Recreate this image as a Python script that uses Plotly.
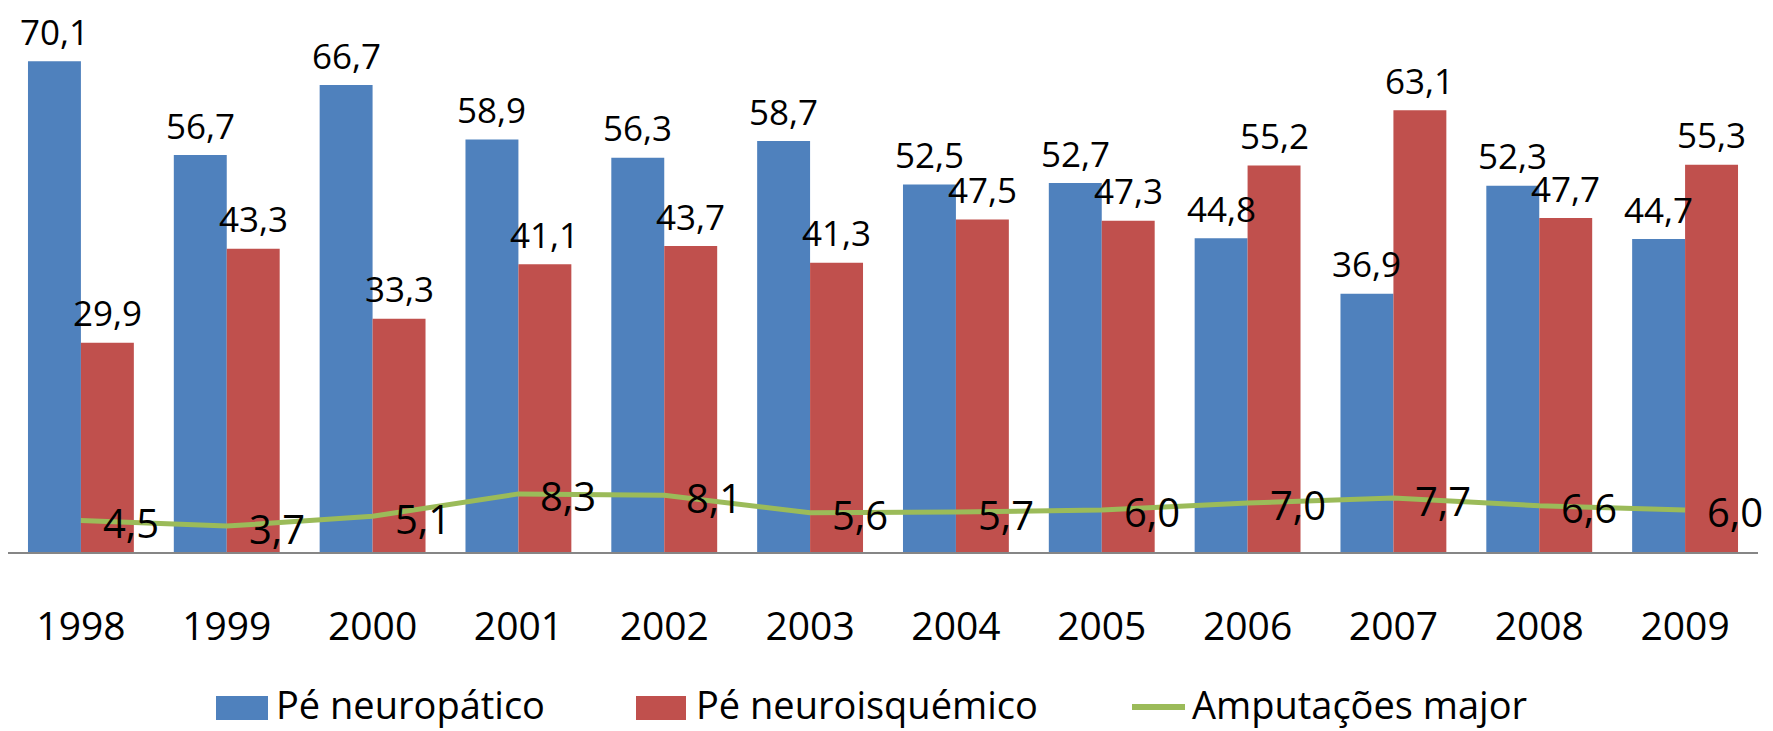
import plotly.graph_objects as go

years = [1998, 1999, 2000, 2001, 2002, 2003, 2004, 2005, 2006, 2007, 2008, 2009]
neuropatico = [70.1, 56.7, 66.7, 58.9, 56.3, 58.7, 52.5, 52.7, 44.8, 36.9, 52.3, 44.7]
neuroisquemico = [29.9, 43.3, 33.3, 41.1, 43.7, 41.3, 47.5, 47.3, 55.2, 63.1, 47.7, 55.3]
amputacoes = [4.5, 3.7, 5.1, 8.3, 8.1, 5.6, 5.7, 6.0, 7.0, 7.7, 6.6, 6.0]
series_names = ["Pé neuropático", "Pé neuroisquémico", "Amputações major"]

BLUE = "#4F81BD"
RED = "#C0504D"
GREEN = "#9BBB59"
FONT = "Open Sans"

OFF = 8  # page body margin
W, H = 1765, 723
L, R, T, B = 0, 15, 0, 179
pw, ph = W - L - R, H - T - B


def fmt(v):
    return f"{v:.1f}".replace(".", ",")


def px(x):
    return (x - OFF - L) / pw


def py(y):
    return (H - B - (y - OFF)) / ph


fig = go.Figure()
fig.add_trace(go.Bar(x=years, y=neuropatico, name=series_names[0], marker_color=BLUE,
                     marker_line_width=0, showlegend=False))
fig.add_trace(go.Bar(x=years, y=neuroisquemico, name=series_names[1], marker_color=RED,
                     marker_line_width=0, showlegend=False))
fig.add_trace(go.Scatter(x=years, y=amputacoes, name=series_names[2], mode="lines",
                         line=dict(color=GREEN, width=5), showlegend=False, cliponaxis=False))

ann = []
for yr, a, b in zip(years, neuropatico, neuroisquemico):
    ann.append(dict(x=yr, y=a, xref="x", yref="y", text=fmt(a), showarrow=False,
                    xshift=-26.5, yshift=30, yanchor="middle",
                    font=dict(family=FONT, size=35, color="black")))
    ann.append(dict(x=yr, y=b, xref="x", yref="y", text=fmt(b), showarrow=False,
                    xshift=26.5, yshift=30, yanchor="middle",
                    font=dict(family=FONT, size=35, color="black")))
for yr, c in zip(years, amputacoes):
    ann.append(dict(x=yr, y=c, xref="x", yref="y", text=fmt(c), showarrow=False,
                    xanchor="left", xshift=20, yshift=-2, yanchor="middle",
                    font=dict(family=FONT, size=40, color="black")))

# custom legend
shapes = [
    dict(type="rect", xref="paper", yref="paper", x0=px(216), x1=px(268), y0=py(720), y1=py(696),
         fillcolor=BLUE, line_width=0),
    dict(type="rect", xref="paper", yref="paper", x0=px(636), x1=px(686), y0=py(720), y1=py(696),
         fillcolor=RED, line_width=0),
    dict(type="line", xref="paper", yref="paper", x0=px(1132), x1=px(1185), y0=py(707), y1=py(707),
         line=dict(color=GREEN, width=6)),
]
for name, lx in zip(series_names, [274, 694, 1190]):
    ann.append(dict(x=px(lx), y=py(704), xref="paper", yref="paper", text=name, showarrow=False,
                    xanchor="left", yanchor="middle",
                    font=dict(family=FONT, size=38, color="black")))

fig.update_layout(
    width=W, height=H,
    margin=dict(l=L, r=R, t=T, b=B),
    paper_bgcolor="white", plot_bgcolor="white",
    barmode="group", bargap=0.274, bargroupgap=0,
    annotations=ann, shapes=shapes,
    showlegend=False,
    xaxis=dict(range=[1997.5, 2009.5], tickvals=years, ticktext=[str(y) for y in years],
               showgrid=False, zeroline=False, showline=True, linecolor="#868686", linewidth=2,
               ticks="", ticklabelstandoff=39,
               tickfont=dict(family=FONT, size=39, color="black")),
    yaxis=dict(range=[0, 77.7], visible=False, showgrid=False, zeroline=False),
)

fig.write_html("out.html")
